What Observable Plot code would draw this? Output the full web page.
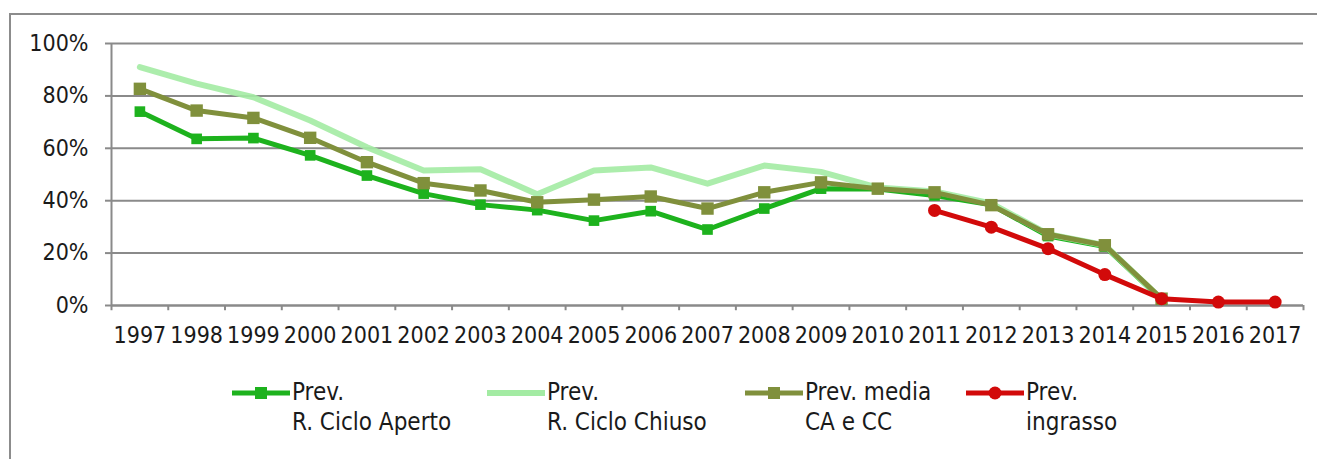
<!DOCTYPE html>
<html>
<head>
<meta charset="utf-8">
<script src="https://cdn.jsdelivr.net/npm/d3@7"></script>
<script src="https://cdn.jsdelivr.net/npm/@observablehq/plot@0.6"></script>
<style>
  html, body { margin: 0; padding: 0; background: #fff; overflow: hidden; }
  #wrap { position: relative; width: 1317px; height: 459px; overflow: hidden;
          font-family: "Liberation Sans Narrow", "DejaVu Sans Condensed", "Open Sans", sans-serif; }
  #frame { position: absolute; left: 9px; top: 13px; width: 1400px; height: 600px;
           border: 2px solid #8c8c8c; box-sizing: border-box; }
  #chart { position: absolute; left: 0; top: 0; }
  #legend { position: absolute; left: 0; top: 360px; width: 1317px; height: 99px; }
  .item { position: absolute; top: 17px; display: flex; align-items: flex-start; }
  .item svg { margin-top: 6px; }
  .item .txt { font-size: 24px; line-height: 30px; color: #1a1a1a; margin-left: 2px; }
</style>
</head>
<body>
<div id="wrap">
  <div id="frame"></div>
  <div id="chart"></div>
  <div id="legend"></div>
</div>
<script>
const years = [1997,1998,1999,2000,2001,2002,2003,2004,2005,2006,2007,2008,2009,2010,2011,2012,2013,2014,2015,2016,2017];
const cicloAperto = [74,63.6,63.9,57.3,49.6,42.7,38.5,36.4,32.4,36,29,37,44.6,44.5,42,38.4,26.5,22.5,2.2,null,null];
const cicloChiuso = [91,84.7,79.5,70.6,60.4,51.5,52,42.5,51.5,52.7,46.5,53.4,51,45,43.5,39,27.2,23,2.4,null,null];
const mediaCACC   = [82.7,74.4,71.6,64,54.7,46.7,43.9,39.4,40.4,41.6,37,43.2,47,44.6,43.2,38.3,27.2,23,2.6,null,null];
const ingrasso    = [null,null,null,null,null,null,null,null,null,null,null,null,null,null,36.3,29.9,21.7,11.8,2.6,1.3,1.3];
const yTicks = [0,20,40,60,80,100];
const seriesNames = ["Prev. R. Ciclo Aperto","Prev. R. Ciclo Chiuso","Prev. media CA e CC","Prev. ingrasso"];
const legendLines = [["Prev.","R. Ciclo Aperto"],["Prev.","R. Ciclo Chiuso"],["Prev. media","CA e CC"],["Prev.","ingrasso"]];
const colors = ["#1db21d","#a3eba3","#80903c","#d20a0a"];

const toRows = (vals, name) => years.map((y,i) => ({year: y, value: vals[i] == null ? null : vals[i]/100, series: name}))
  .filter(d => d.value != null);
const rows = [
  toRows(cicloAperto, seriesNames[0]),
  toRows(cicloChiuso, seriesNames[1]),
  toRows(mediaCACC, seriesNames[2]),
  toRows(ingrasso, seriesNames[3])
];
const bounds = d3.range(years.length + 1).map(i => years[0] - 0.5 + i);
const grid = "#8a8a8a";

const chart = Plot.plot({
  width: 1317,
  height: 360,
  marginLeft: 111,
  marginRight: 14,
  marginTop: 43,
  marginBottom: 55,
  style: {fontFamily: '"Liberation Sans Narrow", "DejaVu Sans Condensed", sans-serif', fontSize: "23px", color: "#1a1a1a", background: "transparent"},
  x: {domain: [years[0]-0.5, years[years.length-1]+0.5], label: null},
  y: {domain: [0, 1], label: null},
  marks: [
    Plot.gridY(yTicks.map(v => v/100), {stroke: grid, strokeOpacity: 1, strokeWidth: 2}),
    Plot.ruleX([bounds[0]], {y1: 0, y2: 1, stroke: grid, strokeWidth: 2}),
    Plot.ruleY([0], {stroke: grid, strokeWidth: 2}),
    Plot.ruleX(bounds, {y1: 0, y2: -0.02, stroke: grid, strokeWidth: 2}),
    Plot.axisY({tickSize: 6, tickPadding: 17, stroke: grid, strokeWidth: 2, tickFormat: d3.format(".0%"), ticks: yTicks.map(v => v/100), label: null}),
    Plot.axisX({ticks: years, tickFormat: d => String(d), tickSize: 0, tickPadding: 21, label: null}),
    // Ciclo Aperto
    Plot.line(rows[0], {x: "year", y: "value", stroke: colors[0], strokeWidth: 5}),
    Plot.dot(rows[0], {x: "year", y: "value", symbol: "square", r: 6, fill: colors[0]}),
    // Ciclo Chiuso
    Plot.line(rows[1], {x: "year", y: "value", stroke: colors[1], strokeWidth: 6, strokeOpacity: 0.9}),
    // Media
    Plot.line(rows[2], {x: "year", y: "value", stroke: colors[2], strokeWidth: 5}),
    Plot.dot(rows[2], {x: "year", y: "value", symbol: "square", r: 7, fill: colors[2]}),
    // Ingrasso
    Plot.line(rows[3], {x: "year", y: "value", stroke: colors[3], strokeWidth: 5}),
    Plot.dot(rows[3], {x: "year", y: "value", symbol: "circle", r: 6.5, fill: colors[3]})
  ]
});
document.getElementById("chart").appendChild(chart);

// Legend
const legendX = [232, 487, 745, 966];
const markerKind = ["square", null, "square", "circle"];
const legend = document.getElementById("legend");
legendLines.forEach((lines, i) => {
  const item = document.createElement("div");
  item.className = "item";
  item.style.left = legendX[i] + "px";
  const ns = "http://www.w3.org/2000/svg";
  const svg = document.createElementNS(ns, "svg");
  svg.setAttribute("width", 58); svg.setAttribute("height", 20);
  const ln = document.createElementNS(ns, "line");
  ln.setAttribute("x1", 0); ln.setAttribute("x2", 58); ln.setAttribute("y1", 10); ln.setAttribute("y2", 10);
  ln.setAttribute("stroke", colors[i]); ln.setAttribute("stroke-width", i === 1 ? 6 : 5);
  svg.appendChild(ln);
  if (markerKind[i] === "square") {
    const r = document.createElementNS(ns, "rect");
    r.setAttribute("x", 23); r.setAttribute("y", 4); r.setAttribute("width", 12); r.setAttribute("height", 12);
    r.setAttribute("fill", colors[i]); svg.appendChild(r);
  } else if (markerKind[i] === "circle") {
    const c = document.createElementNS(ns, "circle");
    c.setAttribute("cx", 29); c.setAttribute("cy", 10); c.setAttribute("r", 6.5);
    c.setAttribute("fill", colors[i]); svg.appendChild(c);
  }
  item.appendChild(svg);
  const txt = document.createElement("div");
  txt.className = "txt";
  txt.innerHTML = lines.map(s => `<div>${s}</div>`).join("");
  item.appendChild(txt);
  legend.appendChild(item);
});
</script>
</body>
</html>
